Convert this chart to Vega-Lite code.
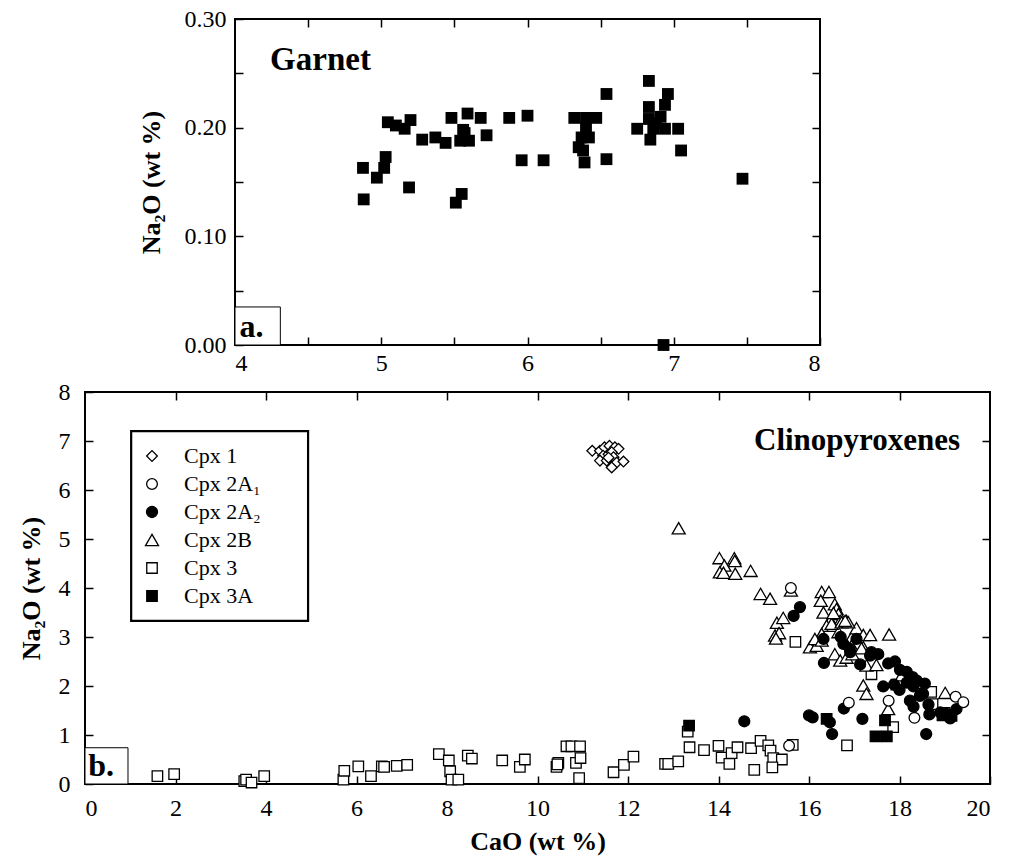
{
  "$schema": "https://vega.github.io/schema/vega-lite/v6.json",
  "background": "white",
  "padding": {"left": 17, "top": 6, "right": 5, "bottom": 5},
  "spacing": 3,
  "resolve": {"legend": {"shape": "independent", "fill": "independent", "size": "independent"}},
  "config": {
    "font": "Liberation Serif",
    "view": {"stroke": "black", "strokeWidth": 2},
    "axis": {
      "domain": false, "grid": false, "tickColor": "black", "tickWidth": 1.5, "tickSize": -8,
      "labelFont": "Liberation Serif", "labelFontSize": 24, "labelColor": "black", "labelPadding": 20, "labelOverlap": false,
      "titleFont": "Liberation Serif", "titleFontSize": 26, "titleColor": "black", "titleFontWeight": "bold"
    }
  },
  "datasets": {
    "garnet": [
      {"CaO": 4.875, "Na2O": 0.163}, {"CaO": 4.88, "Na2O": 0.134}, {"CaO": 4.97, "Na2O": 0.154}, {"CaO": 5.02, "Na2O": 0.163},
      {"CaO": 5.03, "Na2O": 0.173}, {"CaO": 5.045, "Na2O": 0.205}, {"CaO": 5.10, "Na2O": 0.202}, {"CaO": 5.16, "Na2O": 0.199},
      {"CaO": 5.20, "Na2O": 0.207}, {"CaO": 5.19, "Na2O": 0.145}, {"CaO": 5.28, "Na2O": 0.189}, {"CaO": 5.37, "Na2O": 0.191},
      {"CaO": 5.44, "Na2O": 0.186}, {"CaO": 5.48, "Na2O": 0.209}, {"CaO": 5.51, "Na2O": 0.131}, {"CaO": 5.55, "Na2O": 0.139},
      {"CaO": 5.59, "Na2O": 0.213}, {"CaO": 5.56, "Na2O": 0.198}, {"CaO": 5.54, "Na2O": 0.188}, {"CaO": 5.60, "Na2O": 0.188},
      {"CaO": 5.57, "Na2O": 0.195}, {"CaO": 5.68, "Na2O": 0.209}, {"CaO": 5.72, "Na2O": 0.193}, {"CaO": 5.875, "Na2O": 0.209},
      {"CaO": 6.00, "Na2O": 0.211}, {"CaO": 5.96, "Na2O": 0.170}, {"CaO": 6.11, "Na2O": 0.170}, {"CaO": 6.32, "Na2O": 0.209},
      {"CaO": 6.40, "Na2O": 0.209}, {"CaO": 6.47, "Na2O": 0.209}, {"CaO": 6.40, "Na2O": 0.200}, {"CaO": 6.37, "Na2O": 0.191},
      {"CaO": 6.35, "Na2O": 0.182}, {"CaO": 6.38, "Na2O": 0.179}, {"CaO": 6.39, "Na2O": 0.168}, {"CaO": 6.42, "Na2O": 0.191},
      {"CaO": 6.54, "Na2O": 0.231}, {"CaO": 6.54, "Na2O": 0.171}, {"CaO": 6.83, "Na2O": 0.243}, {"CaO": 6.96, "Na2O": 0.231},
      {"CaO": 6.94, "Na2O": 0.221}, {"CaO": 6.83, "Na2O": 0.219}, {"CaO": 6.75, "Na2O": 0.199}, {"CaO": 6.83, "Na2O": 0.208},
      {"CaO": 6.88, "Na2O": 0.204}, {"CaO": 6.91, "Na2O": 0.210}, {"CaO": 6.86, "Na2O": 0.199}, {"CaO": 6.94, "Na2O": 0.199},
      {"CaO": 7.03, "Na2O": 0.199}, {"CaO": 6.84, "Na2O": 0.189}, {"CaO": 7.05, "Na2O": 0.179}, {"CaO": 7.47, "Na2O": 0.153},
      {"CaO": 6.93, "Na2O": 0.000}
    ],
    "cpx": [
      {"type": "Cpx 3", "CaO": 1.60, "Na2O": 0.16}, {"type": "Cpx 3", "CaO": 1.97, "Na2O": 0.20}, {"type": "Cpx 3", "CaO": 3.52, "Na2O": 0.06},
      {"type": "Cpx 3", "CaO": 3.56, "Na2O": 0.09}, {"type": "Cpx 3", "CaO": 3.68, "Na2O": 0.03}, {"type": "Cpx 3", "CaO": 3.96, "Na2O": 0.16},
      {"type": "Cpx 3", "CaO": 5.71, "Na2O": 0.09}, {"type": "Cpx 3", "CaO": 5.73, "Na2O": 0.27}, {"type": "Cpx 3", "CaO": 6.04, "Na2O": 0.36},
      {"type": "Cpx 3", "CaO": 6.32, "Na2O": 0.16}, {"type": "Cpx 3", "CaO": 6.56, "Na2O": 0.36}, {"type": "Cpx 3", "CaO": 6.61, "Na2O": 0.35},
      {"type": "Cpx 3", "CaO": 6.89, "Na2O": 0.37}, {"type": "Cpx 3", "CaO": 7.12, "Na2O": 0.39}, {"type": "Cpx 3", "CaO": 7.82, "Na2O": 0.61},
      {"type": "Cpx 3", "CaO": 8.04, "Na2O": 0.48}, {"type": "Cpx 3", "CaO": 8.07, "Na2O": 0.26}, {"type": "Cpx 3", "CaO": 8.10, "Na2O": 0.09},
      {"type": "Cpx 3", "CaO": 8.25, "Na2O": 0.09}, {"type": "Cpx 3", "CaO": 8.46, "Na2O": 0.58}, {"type": "Cpx 3", "CaO": 8.55, "Na2O": 0.52},
      {"type": "Cpx 3", "CaO": 9.22, "Na2O": 0.48}, {"type": "Cpx 3", "CaO": 9.61, "Na2O": 0.35}, {"type": "Cpx 3", "CaO": 9.72, "Na2O": 0.50},
      {"type": "Cpx 3", "CaO": 10.42, "Na2O": 0.35}, {"type": "Cpx 3", "CaO": 10.46, "Na2O": 0.43}, {"type": "Cpx 3", "CaO": 10.44, "Na2O": 0.40},
      {"type": "Cpx 3", "CaO": 10.64, "Na2O": 0.77}, {"type": "Cpx 3", "CaO": 10.75, "Na2O": 0.77}, {"type": "Cpx 3", "CaO": 10.94, "Na2O": 0.77},
      {"type": "Cpx 3", "CaO": 10.85, "Na2O": 0.43}, {"type": "Cpx 3", "CaO": 10.95, "Na2O": 0.53}, {"type": "Cpx 3", "CaO": 10.92, "Na2O": 0.12},
      {"type": "Cpx 3", "CaO": 11.68, "Na2O": 0.24}, {"type": "Cpx 3", "CaO": 11.91, "Na2O": 0.39}, {"type": "Cpx 3", "CaO": 12.12, "Na2O": 0.56},
      {"type": "Cpx 3", "CaO": 12.82, "Na2O": 0.41}, {"type": "Cpx 3", "CaO": 12.89, "Na2O": 0.41}, {"type": "Cpx 3", "CaO": 13.11, "Na2O": 0.46},
      {"type": "Cpx 3", "CaO": 13.32, "Na2O": 1.07}, {"type": "Cpx 3", "CaO": 13.36, "Na2O": 0.75}, {"type": "Cpx 3", "CaO": 13.68, "Na2O": 0.69},
      {"type": "Cpx 3", "CaO": 14.00, "Na2O": 0.78}, {"type": "Cpx 3", "CaO": 14.07, "Na2O": 0.54}, {"type": "Cpx 3", "CaO": 14.29, "Na2O": 0.63},
      {"type": "Cpx 3", "CaO": 14.24, "Na2O": 0.41}, {"type": "Cpx 3", "CaO": 14.42, "Na2O": 0.75}, {"type": "Cpx 3", "CaO": 14.72, "Na2O": 0.73},
      {"type": "Cpx 3", "CaO": 14.93, "Na2O": 0.88}, {"type": "Cpx 3", "CaO": 15.10, "Na2O": 0.79}, {"type": "Cpx 3", "CaO": 15.15, "Na2O": 0.68},
      {"type": "Cpx 3", "CaO": 15.21, "Na2O": 0.53}, {"type": "Cpx 3", "CaO": 15.40, "Na2O": 0.50}, {"type": "Cpx 3", "CaO": 15.19, "Na2O": 0.34},
      {"type": "Cpx 3", "CaO": 14.79, "Na2O": 0.29}, {"type": "Cpx 3", "CaO": 15.64, "Na2O": 0.80}, {"type": "Cpx 3", "CaO": 15.70, "Na2O": 2.90},
      {"type": "Cpx 3", "CaO": 17.38, "Na2O": 2.24}, {"type": "Cpx 3", "CaO": 17.93, "Na2O": 2.03}, {"type": "Cpx 3", "CaO": 18.70, "Na2O": 1.88},
      {"type": "Cpx 3", "CaO": 18.73, "Na2O": 1.63}, {"type": "Cpx 3", "CaO": 19.00, "Na2O": 1.45}, {"type": "Cpx 3", "CaO": 17.86, "Na2O": 1.16},
      {"type": "Cpx 3", "CaO": 16.84, "Na2O": 0.79},
      {"type": "Cpx 3A", "CaO": 13.35, "Na2O": 1.19}, {"type": "Cpx 3A", "CaO": 16.39, "Na2O": 1.33}, {"type": "Cpx 3A", "CaO": 17.68, "Na2O": 1.30},
      {"type": "Cpx 3A", "CaO": 17.47, "Na2O": 0.97}, {"type": "Cpx 3A", "CaO": 17.72, "Na2O": 0.97}, {"type": "Cpx 3A", "CaO": 18.95, "Na2O": 1.40},
      {"type": "Cpx 3A", "CaO": 19.15, "Na2O": 1.39},
      {"type": "Cpx 2B", "CaO": 13.12, "Na2O": 5.22}, {"type": "Cpx 2B", "CaO": 14.02, "Na2O": 4.61}, {"type": "Cpx 2B", "CaO": 14.35, "Na2O": 4.61},
      {"type": "Cpx 2B", "CaO": 14.36, "Na2O": 4.55}, {"type": "Cpx 2B", "CaO": 14.13, "Na2O": 4.46}, {"type": "Cpx 2B", "CaO": 14.03, "Na2O": 4.32},
      {"type": "Cpx 2B", "CaO": 14.11, "Na2O": 4.31}, {"type": "Cpx 2B", "CaO": 14.37, "Na2O": 4.29}, {"type": "Cpx 2B", "CaO": 14.71, "Na2O": 4.35},
      {"type": "Cpx 2B", "CaO": 14.93, "Na2O": 3.88}, {"type": "Cpx 2B", "CaO": 15.14, "Na2O": 3.78}, {"type": "Cpx 2B", "CaO": 15.60, "Na2O": 3.95},
      {"type": "Cpx 2B", "CaO": 15.29, "Na2O": 3.29}, {"type": "Cpx 2B", "CaO": 15.43, "Na2O": 3.39}, {"type": "Cpx 2B", "CaO": 15.25, "Na2O": 3.03},
      {"type": "Cpx 2B", "CaO": 15.34, "Na2O": 3.08}, {"type": "Cpx 2B", "CaO": 15.27, "Na2O": 2.97}, {"type": "Cpx 2B", "CaO": 16.28, "Na2O": 3.92},
      {"type": "Cpx 2B", "CaO": 16.44, "Na2O": 3.92}, {"type": "Cpx 2B", "CaO": 16.26, "Na2O": 3.74}, {"type": "Cpx 2B", "CaO": 16.57, "Na2O": 3.67},
      {"type": "Cpx 2B", "CaO": 16.61, "Na2O": 3.57}, {"type": "Cpx 2B", "CaO": 16.32, "Na2O": 3.50}, {"type": "Cpx 2B", "CaO": 16.65, "Na2O": 3.47},
      {"type": "Cpx 2B", "CaO": 16.46, "Na2O": 3.32}, {"type": "Cpx 2B", "CaO": 16.69, "Na2O": 3.33}, {"type": "Cpx 2B", "CaO": 16.83, "Na2O": 3.33},
      {"type": "Cpx 2B", "CaO": 16.39, "Na2O": 3.23}, {"type": "Cpx 2B", "CaO": 16.54, "Na2O": 3.23}, {"type": "Cpx 2B", "CaO": 16.28, "Na2O": 3.06},
      {"type": "Cpx 2B", "CaO": 16.65, "Na2O": 3.10}, {"type": "Cpx 2B", "CaO": 16.94, "Na2O": 2.99}, {"type": "Cpx 2B", "CaO": 17.05, "Na2O": 3.18},
      {"type": "Cpx 2B", "CaO": 17.20, "Na2O": 3.04}, {"type": "Cpx 2B", "CaO": 17.35, "Na2O": 3.04}, {"type": "Cpx 2B", "CaO": 17.77, "Na2O": 3.05},
      {"type": "Cpx 2B", "CaO": 16.02, "Na2O": 2.79}, {"type": "Cpx 2B", "CaO": 16.17, "Na2O": 2.82}, {"type": "Cpx 2B", "CaO": 16.13, "Na2O": 2.96},
      {"type": "Cpx 2B", "CaO": 16.28, "Na2O": 2.93}, {"type": "Cpx 2B", "CaO": 16.57, "Na2O": 2.65}, {"type": "Cpx 2B", "CaO": 16.69, "Na2O": 2.52},
      {"type": "Cpx 2B", "CaO": 16.83, "Na2O": 2.58}, {"type": "Cpx 2B", "CaO": 16.96, "Na2O": 2.65}, {"type": "Cpx 2B", "CaO": 16.94, "Na2O": 2.82},
      {"type": "Cpx 2B", "CaO": 17.20, "Na2O": 2.79}, {"type": "Cpx 2B", "CaO": 17.27, "Na2O": 2.42}, {"type": "Cpx 2B", "CaO": 17.49, "Na2O": 2.43},
      {"type": "Cpx 2B", "CaO": 17.20, "Na2O": 2.01}, {"type": "Cpx 2B", "CaO": 17.27, "Na2O": 1.84}, {"type": "Cpx 2B", "CaO": 18.05, "Na2O": 2.22},
      {"type": "Cpx 2B", "CaO": 17.75, "Na2O": 1.53}, {"type": "Cpx 2B", "CaO": 18.45, "Na2O": 2.06}, {"type": "Cpx 2B", "CaO": 19.01, "Na2O": 1.86},
      {"type": "Cpx 2B", "CaO": 16.50, "Na2O": 3.27}, {"type": "Cpx 2B", "CaO": 16.72, "Na2O": 3.30}, {"type": "Cpx 2B", "CaO": 16.87, "Na2O": 3.30},
      {"type": "Cpx 2B", "CaO": 16.54, "Na2O": 3.49}, {"type": "Cpx 2B", "CaO": 16.80, "Na2O": 3.33}, {"type": "Cpx 2B", "CaO": 17.16, "Na2O": 2.77},
      {"type": "Cpx 2A₂", "CaO": 15.66, "Na2O": 3.43}, {"type": "Cpx 2A₂", "CaO": 15.80, "Na2O": 3.61}, {"type": "Cpx 2A₂", "CaO": 16.33, "Na2O": 2.47},
      {"type": "Cpx 2A₂", "CaO": 16.76, "Na2O": 2.86}, {"type": "Cpx 2A₂", "CaO": 16.91, "Na2O": 2.69}, {"type": "Cpx 2A₂", "CaO": 17.13, "Na2O": 2.44},
      {"type": "Cpx 2A₂", "CaO": 17.38, "Na2O": 2.69}, {"type": "Cpx 2A₂", "CaO": 17.53, "Na2O": 2.65}, {"type": "Cpx 2A₂", "CaO": 17.75, "Na2O": 2.46},
      {"type": "Cpx 2A₂", "CaO": 17.90, "Na2O": 2.50}, {"type": "Cpx 2A₂", "CaO": 18.01, "Na2O": 2.33}, {"type": "Cpx 2A₂", "CaO": 18.16, "Na2O": 2.29},
      {"type": "Cpx 2A₂", "CaO": 18.29, "Na2O": 2.18}, {"type": "Cpx 2A₂", "CaO": 17.64, "Na2O": 1.99}, {"type": "Cpx 2A₂", "CaO": 17.88, "Na2O": 2.03},
      {"type": "Cpx 2A₂", "CaO": 18.00, "Na2O": 1.92}, {"type": "Cpx 2A₂", "CaO": 18.16, "Na2O": 2.07}, {"type": "Cpx 2A₂", "CaO": 18.38, "Na2O": 2.11},
      {"type": "Cpx 2A₂", "CaO": 18.31, "Na2O": 1.99}, {"type": "Cpx 2A₂", "CaO": 18.52, "Na2O": 1.84}, {"type": "Cpx 2A₂", "CaO": 18.56, "Na2O": 2.05},
      {"type": "Cpx 2A₂", "CaO": 18.23, "Na2O": 1.70}, {"type": "Cpx 2A₂", "CaO": 18.31, "Na2O": 1.58}, {"type": "Cpx 2A₂", "CaO": 18.64, "Na2O": 1.62},
      {"type": "Cpx 2A₂", "CaO": 18.66, "Na2O": 1.42}, {"type": "Cpx 2A₂", "CaO": 18.90, "Na2O": 1.46}, {"type": "Cpx 2A₂", "CaO": 19.04, "Na2O": 1.43},
      {"type": "Cpx 2A₂", "CaO": 19.26, "Na2O": 1.53}, {"type": "Cpx 2A₂", "CaO": 19.12, "Na2O": 1.34}, {"type": "Cpx 2A₂", "CaO": 16.00, "Na2O": 1.40},
      {"type": "Cpx 2A₂", "CaO": 16.08, "Na2O": 1.36}, {"type": "Cpx 2A₂", "CaO": 16.46, "Na2O": 1.26}, {"type": "Cpx 2A₂", "CaO": 16.51, "Na2O": 1.02},
      {"type": "Cpx 2A₂", "CaO": 16.77, "Na2O": 1.54}, {"type": "Cpx 2A₂", "CaO": 17.18, "Na2O": 1.33}, {"type": "Cpx 2A₂", "CaO": 18.59, "Na2O": 1.02},
      {"type": "Cpx 2A₂", "CaO": 14.57, "Na2O": 1.28}, {"type": "Cpx 2A₂", "CaO": 16.32, "Na2O": 2.96}, {"type": "Cpx 2A₂", "CaO": 16.70, "Na2O": 3.00},
      {"type": "Cpx 2A₂", "CaO": 17.05, "Na2O": 2.96}, {"type": "Cpx 2A₂", "CaO": 16.90, "Na2O": 2.76}, {"type": "Cpx 2A₂", "CaO": 17.35, "Na2O": 2.62},
      {"type": "Cpx 2A₂", "CaO": 18.45, "Na2O": 1.80},
      {"type": "Cpx 2A₁", "CaO": 15.60, "Na2O": 4.00}, {"type": "Cpx 2A₁", "CaO": 16.88, "Na2O": 1.66}, {"type": "Cpx 2A₁", "CaO": 17.76, "Na2O": 1.70},
      {"type": "Cpx 2A₁", "CaO": 18.33, "Na2O": 1.35}, {"type": "Cpx 2A₁", "CaO": 19.24, "Na2O": 1.78}, {"type": "Cpx 2A₁", "CaO": 19.41, "Na2O": 1.67},
      {"type": "Cpx 2A₁", "CaO": 15.56, "Na2O": 0.78},
      {"type": "Cpx 1", "CaO": 11.21, "Na2O": 6.80}, {"type": "Cpx 1", "CaO": 11.38, "Na2O": 6.80}, {"type": "Cpx 1", "CaO": 11.48, "Na2O": 6.87},
      {"type": "Cpx 1", "CaO": 11.59, "Na2O": 6.90}, {"type": "Cpx 1", "CaO": 11.71, "Na2O": 6.87}, {"type": "Cpx 1", "CaO": 11.79, "Na2O": 6.84},
      {"type": "Cpx 1", "CaO": 11.45, "Na2O": 6.70}, {"type": "Cpx 1", "CaO": 11.57, "Na2O": 6.73}, {"type": "Cpx 1", "CaO": 11.64, "Na2O": 6.77},
      {"type": "Cpx 1", "CaO": 11.38, "Na2O": 6.60}, {"type": "Cpx 1", "CaO": 11.53, "Na2O": 6.60}, {"type": "Cpx 1", "CaO": 11.68, "Na2O": 6.67},
      {"type": "Cpx 1", "CaO": 11.75, "Na2O": 6.56}, {"type": "Cpx 1", "CaO": 11.90, "Na2O": 6.58}, {"type": "Cpx 1", "CaO": 11.64, "Na2O": 6.46},
      {"type": "Cpx 1", "CaO": 11.57, "Na2O": 6.66}
    ]
  },
  "vconcat": [
    {
      "spacing": 0,
      "hconcat": [
        {
          "width": 52, "height": 326,
          "view": {"stroke": null, "fill": "white"},
          "data": {"values": []},
          "mark": "point"
        },
        {
          "width": 585, "height": 326,
          "layer": [
            {
              "data": {"name": "garnet"},
              "mark": {"type": "square", "color": "black", "size": 140, "opacity": 1},
              "encoding": {
                "x": {"field": "CaO", "type": "quantitative", "scale": {"domain": [4, 8], "nice": false, "zero": false},
                      "axis": {"orient": "bottom", "title": null, "labelPadding": 14, "values": [4, 4.5, 5, 5.5, 6, 6.5, 7, 7.5, 8],
                               "labelExpr": "datum.value % 1 === 0 ? format(datum.value, 'd') : ''"}},
                "y": {"field": "Na2O", "type": "quantitative", "scale": {"domain": [0, 0.3], "nice": false, "zero": false},
                      "axis": {"orient": "left", "title": "Na₂O (wt %)", "titlePadding": 20, "labelPadding": 17, "values": [0, 0.05, 0.1, 0.15, 0.2, 0.25, 0.3],
                               "labelExpr": "round(datum.value * 100) % 10 === 0 ? format(datum.value, '.2f') : ''"}}
              }
            },
            {
              "data": {"values": [{"CaO": 4.24, "Na2O": 0.262, "label": "Garnet"}]},
              "mark": {"type": "text", "font": "Liberation Serif", "fontWeight": "bold", "fontSize": 33, "align": "left", "baseline": "middle", "color": "black"},
              "encoding": {
                "x": {"field": "CaO", "type": "quantitative", "scale": {"domain": [4, 8], "nice": false, "zero": false},
                      "axis": {"orient": "top", "title": null, "labels": false, "values": [4.5, 5, 5.5, 6, 6.5, 7, 7.5]}},
                "y": {"field": "Na2O", "type": "quantitative", "scale": {"domain": [0, 0.3], "nice": false, "zero": false},
                      "axis": {"orient": "right", "title": null, "labels": false, "values": [0.05, 0.1, 0.15, 0.2, 0.25]}},
                "text": {"field": "label"}
              }
            },
            {
              "data": {"values": [{"CaO": 4, "CaO2": 4.31, "Na2O": 0, "Na2O2": 0.035}]},
              "mark": {"type": "rect", "fill": "white", "stroke": "black", "strokeWidth": 1},
              "encoding": {
                "x": {"field": "CaO", "type": "quantitative", "axis": null},
                "x2": {"field": "CaO2"},
                "y": {"field": "Na2O", "type": "quantitative", "axis": null},
                "y2": {"field": "Na2O2"}
              }
            },
            {
              "data": {"values": [{"CaO": 4.03, "Na2O": 0.0165, "label": "a."}]},
              "mark": {"type": "text", "font": "Liberation Serif", "fontWeight": "bold", "fontSize": 32, "align": "left", "baseline": "middle", "color": "black"},
              "encoding": {
                "x": {"field": "CaO", "type": "quantitative", "axis": null},
                "y": {"field": "Na2O", "type": "quantitative", "axis": null},
                "text": {"field": "label"}
              }
            }
          ],
          "resolve": {"axis": {"x": "independent", "y": "independent"}}
        }
      ]
    },
    {
      "width": 905, "height": 392,
      "layer": [
        {
          "data": {"values": [{"CaO": 1.02, "CaO2": 4.93, "Na2O": 3.33, "Na2O2": 7.2}]},
          "mark": {"type": "rect", "fill": "white", "stroke": "black", "strokeWidth": 2.2},
          "encoding": {
            "x": {"field": "CaO", "type": "quantitative", "scale": {"domain": [0, 20], "nice": false, "zero": false},
                  "axis": {"orient": "top", "title": null, "labels": false, "values": [2, 4, 6, 8, 10, 12, 14, 16, 18]}},
            "x2": {"field": "CaO2"},
            "y": {"field": "Na2O", "type": "quantitative", "scale": {"domain": [0, 8], "nice": false, "zero": false},
                  "axis": {"orient": "right", "title": null, "labels": false, "values": [1, 2, 3, 4, 5, 6, 7]}},
            "y2": {"field": "Na2O2"}
          }
        },
        {
          "data": {"name": "cpx"},
          "mark": {"type": "point", "filled": true, "stroke": "black", "strokeWidth": 1.3, "opacity": 1},
          "encoding": {
            "x": {"field": "CaO", "type": "quantitative", "scale": {"domain": [0, 20], "nice": false, "zero": false},
                  "axis": {"orient": "bottom", "title": "CaO (wt %)", "titlePadding": 8, "labelPadding": 20, "values": [0, 2, 4, 6, 8, 10, 12, 14, 16, 18, 20], "format": "d"}},
            "y": {"field": "Na2O", "type": "quantitative", "scale": {"domain": [0, 8], "nice": false, "zero": false},
                  "axis": {"orient": "left", "title": "Na₂O (wt %)", "titlePadding": 14, "labelPadding": 23, "values": [0, 1, 2, 3, 4, 5, 6, 7, 8], "format": "d"}},
            "shape": {"field": "type", "type": "nominal",
                      "scale": {"domain": ["Cpx 1", "Cpx 2A₁", "Cpx 2A₂", "Cpx 2B", "Cpx 3", "Cpx 3A"],
                                "range": ["diamond", "circle", "circle", "triangle-up", "square", "square"]},
                      "legend": {"title": null, "orient": "none", "legendX": 56, "legendY": 53, "padding": 0,
                                 "labelFont": "Liberation Serif", "labelFontSize": 22, "labelColor": "black", "labelOffset": 21,
                                 "rowPadding": 6, "symbolStrokeColor": "black", "symbolStrokeWidth": 1.3, "labelLimit": 300}},
            "fill": {"field": "type", "type": "nominal",
                     "scale": {"domain": ["Cpx 1", "Cpx 2A₁", "Cpx 2A₂", "Cpx 2B", "Cpx 3", "Cpx 3A"],
                               "range": ["white", "white", "black", "white", "white", "black"]}},
            "size": {"field": "type", "type": "nominal",
                     "scale": {"type": "ordinal", "domain": ["Cpx 1", "Cpx 2A₁", "Cpx 2A₂", "Cpx 2B", "Cpx 3", "Cpx 3A"],
                               "range": [115, 115, 120, 170, 110, 110]}}
          }
        },
        {
          "data": {"values": [{"CaO": 19.34, "Na2O": 7.0, "label": "Clinopyroxenes"}]},
          "mark": {"type": "text", "font": "Liberation Serif", "fontWeight": "bold", "fontSize": 31, "align": "right", "baseline": "middle", "color": "black"},
          "encoding": {
            "x": {"field": "CaO", "type": "quantitative", "axis": null},
            "y": {"field": "Na2O", "type": "quantitative", "axis": null},
            "text": {"field": "label"}
          }
        },
        {
          "data": {"values": [{"CaO": 0, "CaO2": 0.95, "Na2O": 0, "Na2O2": 0.74}]},
          "mark": {"type": "rect", "fill": "white", "stroke": "black", "strokeWidth": 1},
          "encoding": {
            "x": {"field": "CaO", "type": "quantitative", "axis": null},
            "x2": {"field": "CaO2"},
            "y": {"field": "Na2O", "type": "quantitative", "axis": null},
            "y2": {"field": "Na2O2"}
          }
        },
        {
          "data": {"values": [{"CaO": 0.07, "Na2O": 0.36, "label": "b."}]},
          "mark": {"type": "text", "font": "Liberation Serif", "fontWeight": "bold", "fontSize": 32, "align": "left", "baseline": "middle", "color": "black"},
          "encoding": {
            "x": {"field": "CaO", "type": "quantitative", "axis": null},
            "y": {"field": "Na2O", "type": "quantitative", "axis": null},
            "text": {"field": "label"}
          }
        }
      ],
      "resolve": {"axis": {"x": "independent", "y": "independent"}}
    }
  ]
}
